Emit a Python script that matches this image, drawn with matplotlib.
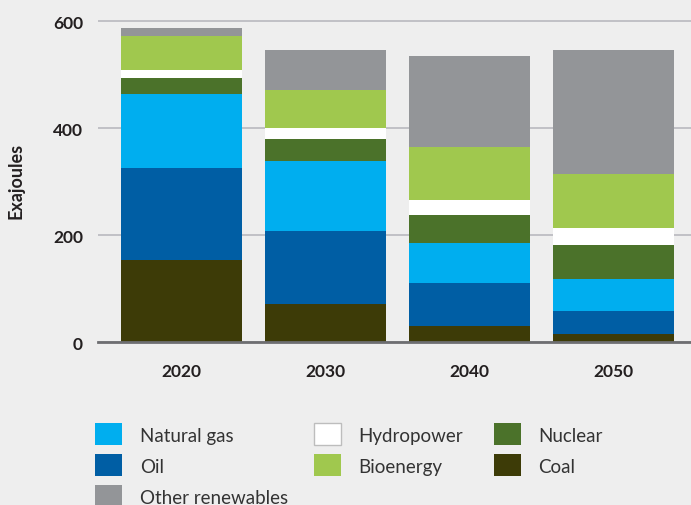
import matplotlib
matplotlib.use("Agg")
import matplotlib.pyplot as plt
from matplotlib.patches import Rectangle
import numpy as np

years = ["2020", "2030", "2040", "2050"]
coal = [154, 72, 30, 16]
oil = [172, 136, 81, 43]
natural_gas = [138, 131, 75, 60]
nuclear = [30, 41, 52, 62]
hydropower = [15, 21, 28, 32]
bioenergy = [63, 71, 99, 101]
other_renewables = [15, 75, 170, 232]

series = [
    ("Coal", coal, "#3d3b07"),
    ("Oil", oil, "#005ea4"),
    ("Natural gas", natural_gas, "#00aeef"),
    ("Nuclear", nuclear, "#4b722a"),
    ("Hydropower", hydropower, "#ffffff"),
    ("Bioenergy", bioenergy, "#a0c84e"),
    ("Other renewables", other_renewables, "#939598"),
]
colors = {n: c for n, _, c in series}

bg = "#eeeeee"
plt.rcParams['font.family'] = ['Lato', 'DejaVu Sans']

W, H = 691, 506
fig = plt.figure(figsize=(W/100, H/100), dpi=100, facecolor=bg)
ax = fig.add_axes([97.7/W, 1-343.3/H, 1-97.7/W, (343.3-11.6)/H])
ax.set_facecolor(bg)

x = np.arange(len(years))
bottom = np.zeros(len(years))
for name, vals, col in series:
    ax.bar(x, vals, width=0.84, bottom=bottom, color=col, edgecolor='none',
           linewidth=0, zorder=3, label=name)
    bottom += np.array(vals)

ax.set_xlim(-0.582, 3.538)
ax.set_ylim(0, 620)
ax.set_yticks([0, 200, 400, 600])
ax.set_yticklabels(["0", "200", "400", "600"])
ax.set_xticks(x)
ax.set_xticklabels(years)
ax.tick_params(axis='both', length=0, labelsize=12.5, colors='#231f20')
ax.tick_params(axis='y', pad=10.5)
ax.tick_params(axis='x', pad=15)
for lab in ax.get_xticklabels() + ax.get_yticklabels():
    lab.set_fontweight('bold')

ax.yaxis.grid(True, color='#b9b9bf', linewidth=1.2, zorder=0)
ax.set_axisbelow(True)
for s in ['top', 'right', 'left']:
    ax.spines[s].set_visible(False)
ax.spines['bottom'].set_color('#6d6e71')
ax.spines['bottom'].set_linewidth(2)
ax.spines['bottom'].set_zorder(4)

ax.set_ylabel("Exajoules", fontsize=13, fontweight='bold', color='#231f20')
ax.yaxis.set_label_coords(-73/593.3, 0.49)

# Legend laid out in three columns (pixel positions from the reference)
legend_cols = [
    (95.5, ["Natural gas", "Oil", "Other renewables"]),
    (314, ["Hydropower", "Bioenergy"]),
    (494, ["Nuclear", "Coal"]),
]
for x0, names in legend_cols:
    for i, name in enumerate(names):
        top = 424 + 31 * i
        edge = '#bdbdbd' if name == "Hydropower" else 'none'
        fig.add_artist(Rectangle((x0/W, 1-(top+22)/H), 27/W, 22/H,
                                 transform=fig.transFigure, facecolor=colors[name],
                                 edgecolor=edge, linewidth=1))
        fig.text((x0+44.5)/W, 1-(top+18)/H, name, fontsize=13.5, color='#333333',
                 ha='left', va='baseline')

fig.savefig("out.png", dpi=100, facecolor=bg)
